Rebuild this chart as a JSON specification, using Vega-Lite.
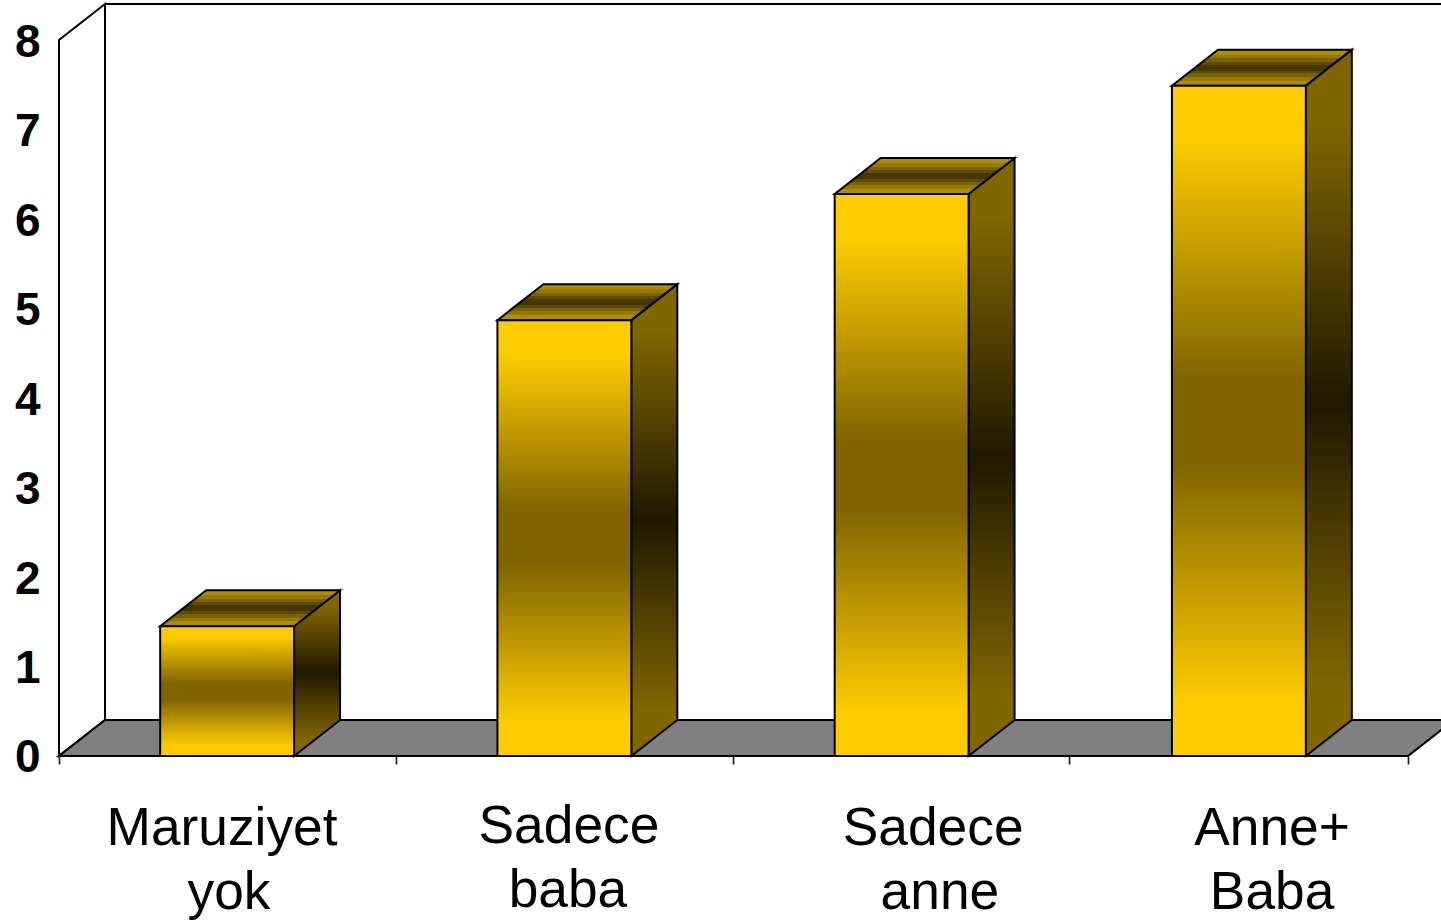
{
 "$schema":"https://vega.github.io/schema/vega-lite/v6.json",
 "width":1441,"height":921,"padding":0,"autosize":{"type":"none"},
 "background":"white",
 "config":{"view":{"stroke":null}},
 "datasets":{
  "bars":[
   {"label":"Maruziyet yok","index":0,"value":1.45},
   {"label":"Sadece baba","index":1,"value":4.87},
   {"label":"Sadece anne","index":2,"value":6.28},
   {"label":"Anne+ Baba","index":3,"value":7.49}
  ],
  "wall":[{"px":0,"py":0,"py2":8},{"px":0.1364,"py":0.4022,"py2":8.4022}],
  "topline":[{"px":0.1364,"py":8.4022},{"px":4.2,"py":8.4022}],
  "floor":[
   {"px":0,"py":0,"py2":0},
   {"px":0.1364,"py":0,"py2":0.4022},
   {"px":4,"py":0,"py2":0.4022},
   {"px":4.1364,"py":0.4022,"py2":0.4022}
  ],
  "labels":[
   {"text":"Maruziyet","px":0.4833,"py":-1.0},
   {"text":"yok","px":0.504,"py":-1.715},
   {"text":"Sadece","px":1.512,"py":-0.972},
   {"text":"baba","px":1.509,"py":-1.687},
   {"text":"Sadece","px":2.592,"py":-1.0},
   {"text":"anne","px":2.612,"py":-1.715},
   {"text":"Anne+","px":3.597,"py":-0.995},
   {"text":"Baba","px":3.597,"py":-1.709}
  ]
 },
 "encoding":{
  "x":{"field":"px","type":"quantitative","scale":{"domain":[-0.17494,4.09785],"nice":false,"zero":false},
   "axis":{"orient":"bottom","offset":-165,"values":[0,1,2,2.995,4],"labels":false,"domain":false,"grid":false,"tickSize":8,"tickWidth":1.7,"tickColor":"#222222","title":null,"zindex":1}},
  "y":{"field":"py","type":"quantitative","stack":null,"scale":{"domain":[-1.8436,8.447],"nice":false,"zero":false},
   "axis":{"orient":"left","offset":-59,"values":[0,1,2,3,4,5,6,7,8],"format":"d","domain":false,"grid":false,"ticks":false,"labelPadding":19,"labelOffset":2,"labelFont":"Liberation Sans","labelFontWeight":"bold","labelFontSize":46,"labelColor":"black","labelBaseline":"middle","title":null,"zindex":1}}
 },
 "layer":[
  {"data":{"name":"wall"},
   "mark":{"type":"area","orient":"vertical","fill":"white","stroke":"black","strokeWidth":2},
   "encoding":{"y2":{"field":"py2"}}},
  {"data":{"name":"topline"},
   "mark":{"type":"line","stroke":"black","strokeWidth":2.2,"clip":true}},
  {"data":{"name":"floor"},
   "mark":{"type":"area","orient":"vertical","fill":"#808080","stroke":"black","strokeWidth":2.2,"clip":true},
   "encoding":{"y2":{"field":"py2"}}},
  {"data":{"name":"bars"},
   "transform":[
    {"calculate":"[0,1]","as":"t"},{"flatten":["t"]},
    {"calculate":"datum.index+0.697+datum.t*0.1364","as":"px"},
    {"calculate":"datum.t*0.4022","as":"py"},
    {"calculate":"datum.value+datum.t*0.4022","as":"py2"}
   ],
   "mark":{"type":"area","orient":"vertical","stroke":"black","strokeWidth":2,
    "fill":{"gradient":"linear","x1":0,"y1":0,"x2":0,"y2":1,"stops":[{"offset":0,"color":"#806600"},{"offset":0.1,"color":"#806600"},{"offset":0.5,"color":"#201800"},{"offset":0.9,"color":"#806600"},{"offset":1,"color":"#806600"}]}},
   "encoding":{"y2":{"field":"py2"},"detail":{"field":"label"}}},
  {"data":{"name":"bars"},
   "transform":[
    {"calculate":"[0,1,2,3]","as":"t"},{"flatten":["t"]},
    {"calculate":"datum.index+0.3+(datum.t==0?0:datum.t==1?0.1364:datum.t==2?0.397:0.5334)","as":"px"},
    {"calculate":"datum.value+(datum.t==3?0.4022:0)","as":"py"},
    {"calculate":"datum.value+(datum.t==0?0:0.4022)","as":"py2"}
   ],
   "mark":{"type":"area","orient":"vertical","stroke":"black","strokeWidth":2,
    "fill":{"gradient":"linear","x1":0,"y1":0,"x2":0,"y2":1,"stops":[
     {"offset":0,"color":"#B08C00"},{"offset":0.14,"color":"#B08C00"},
     {"offset":0.14,"color":"#977800"},{"offset":0.24,"color":"#977800"},
     {"offset":0.24,"color":"#7A6100"},{"offset":0.34,"color":"#7A6100"},
     {"offset":0.34,"color":"#5E4A00"},{"offset":0.42,"color":"#5E4A00"},
     {"offset":0.42,"color":"#463700"},{"offset":0.58,"color":"#463700"},
     {"offset":0.58,"color":"#5E4A00"},{"offset":0.66,"color":"#5E4A00"},
     {"offset":0.66,"color":"#7A6100"},{"offset":0.76,"color":"#7A6100"},
     {"offset":0.76,"color":"#977800"},{"offset":0.86,"color":"#977800"},
     {"offset":0.86,"color":"#B08C00"},{"offset":1,"color":"#B08C00"}]}},
   "encoding":{"y2":{"field":"py2"},"detail":{"field":"label"}}},
  {"data":{"name":"bars"},
   "transform":[
    {"calculate":"datum.index+0.3","as":"px"},
    {"calculate":"datum.index+0.697","as":"px2"},
    {"calculate":"datum.value","as":"py"},
    {"calculate":"0","as":"py2"}
   ],
   "mark":{"type":"rect","stroke":"black","strokeWidth":2,
    "fill":{"gradient":"linear","x1":0,"y1":0,"x2":0,"y2":1,"stops":[{"offset":0,"color":"#FFCC00"},{"offset":0.08,"color":"#FFCC00"},{"offset":0.44,"color":"#7F6400"},{"offset":0.56,"color":"#7F6400"},{"offset":0.92,"color":"#FFCC00"},{"offset":1,"color":"#FFCC00"}]}},
   "encoding":{"x2":{"field":"px2"},"y2":{"field":"py2"}}},
  {"data":{"name":"labels"},
   "mark":{"type":"text","font":"Liberation Sans","fontSize":53.3,"color":"black","align":"center","baseline":"alphabetic"},
   "encoding":{"text":{"field":"text"}}}
 ]
}
